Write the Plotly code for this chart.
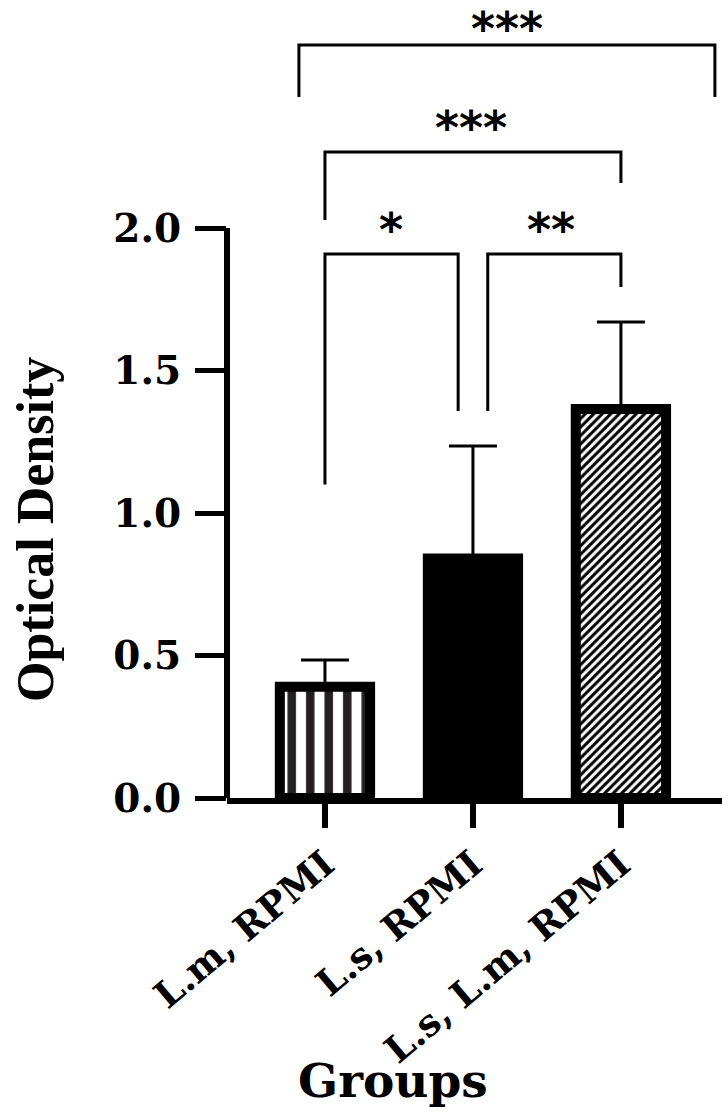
import plotly.graph_objects as go

# ---- data ----
categories = ["L.m, RPMI", "L.s, RPMI", "L.s, L.m, RPMI"]
means = [0.39, 0.84, 1.365]
errors = [0.094, 0.395, 0.305]
ytick_vals = [0.0, 0.5, 1.0, 1.5, 2.0]
ytick_text = ["0.0", "0.5", "1.0", "1.5", "2.0"]

# significance brackets: (x_left, x_right, y_top, y_left_end, y_right_end, label, label_x, label_y)
brackets = [
    (-0.176, 2.635, 2.642, 2.46, 2.46, "***", 1.23, 2.74),
    (0.0, 2.0, 2.267, 2.028, 2.158, "***", 0.986, 2.38),
    (0.0, 0.9, 1.909, 1.10, 1.358, "*", 0.446, 2.02),
    (1.10, 2.0, 1.909, 1.358, 1.793, "**", 1.53, 2.02),
]

patterns = [
    dict(shape="|", fgcolor="#231f20", bgcolor="white", size=18.5, solidity=0.46, fillmode="replace"),
    dict(shape="", fgcolor="black", bgcolor="black"),
    dict(shape="/", fgcolor="black", bgcolor="white", size=6, solidity=0.5, fillmode="replace"),
]
fill_colors = ["white", "black", "white"]

fig = go.Figure()
for i, cat in enumerate(categories):
    fig.add_trace(go.Bar(
        x=[cat], y=[means[i]], width=0.61,
        marker=dict(color=fill_colors[i], line=dict(color="black", width=10), pattern=patterns[i]),
        error_y=dict(type="data", array=[errors[i]], arrayminus=[0], symmetric=False,
                     color="black", thickness=3, width=24),
        showlegend=False,
    ))

serif_bold = dict(family="DejaVu Serif", weight="bold", color="black")

fig.update_layout(
    width=728, height=1112,
    margin=dict(l=227, r=6, t=0, b=314),
    plot_bgcolor="white", paper_bgcolor="white",
    bargap=0.3,
    xaxis=dict(
        type="category", range=[-0.662, 2.683],
        showline=True, linecolor="black", linewidth=6,
        ticks="outside", ticklen=24, tickwidth=6, tickcolor="black",
        tickangle=-40, tickfont=dict(size=37, **serif_bold),
        showgrid=False, zeroline=False,
    ),
    yaxis=dict(
        range=[0, 2.8], tickvals=ytick_vals, ticktext=ytick_text,
        showline=False, ticks="outside", ticklen=31, tickwidth=5, tickcolor="black",
        tickfont=dict(size=39, **serif_bold), ticklabelstandoff=6,
        showgrid=False, zeroline=False,
    ),
)

# y axis line only from 0 to 2.0
fig.add_shape(type="line", xref="paper", yref="y", x0=0, x1=0, y0=0, y1=ytick_vals[-1],
              line=dict(color="black", width=6))

star_font = dict(family="DejaVu Sans", weight="bold", size=46, color="black")
for k, (xl, xr, yt, yl, yr, lab, lx, ly) in enumerate(brackets):
    fig.add_shape(type="path", xref="x", yref="y",
                  path=f"M {xl},{yl} L {xl},{yt} L {xr},{yt} L {xr},{yr}",
                  line=dict(color="black", width=3))
    if k == 0:
        fig.add_annotation(x=lx, y=1, xref="x", yref="paper", text=lab, showarrow=False,
                           font=star_font, yanchor="top")
    else:
        fig.add_annotation(x=lx, y=ly, xref="x", yref="y", text=lab, showarrow=False,
                           font=star_font, yanchor="middle", yshift=-8)

fig.add_annotation(text="Groups", xref="paper", yref="paper", x=0.335, y=-0.391,
                   showarrow=False, xanchor="center", yanchor="bottom",
                   font=dict(size=47, **serif_bold))
fig.add_annotation(text="Optical Density", xref="paper", yref="paper", x=-0.388, y=0.337,
                   showarrow=False, xanchor="center", yanchor="middle", textangle=-90,
                   font=dict(family="Liberation Serif", weight="bold", size=52, color="black"))

fig.write_html("out.html")
